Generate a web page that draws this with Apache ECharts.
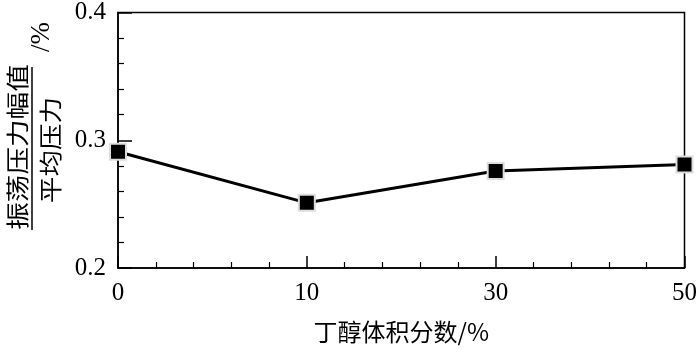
<!DOCTYPE html>
<html>
<head>
<meta charset="utf-8">
<script src="https://cdn.jsdelivr.net/npm/echarts@6/dist/echarts.min.js"></script>
<style>html,body{margin:0;padding:0;background:#fff;}#c{width:700px;height:349px;}</style>
</head>
<body>
<div id="c"></div>
<script>
var xLabels = ['0', '10', '30', '50'];
var yValues = [0.291, 0.251, 0.276, 0.281];
var yTicks = [0.2, 0.3, 0.4];
var xName = '丁醇体积分数/%';
var yNumerator = '振荡压力幅值';
var yDenominator = '平均压力';
var yUnit = '/%';

var chart = echarts.init(document.getElementById('c'));
var serif = '"Liberation Serif", "Times New Roman", serif';
var cjk = '"Noto Sans CJK SC", sans-serif';
chart.setOption({
  animation: false,
  backgroundColor: '#fff',
  grid: { left: 118, right: 11, top: 8, bottom: 76, show: true, borderColor: '#000', borderWidth: 1.5, containLabel: false },
  xAxis: {
    type: 'value', min: 0, max: xLabels.length - 1, interval: 1,
    name: xName, nameLocation: 'middle', nameGap: 52,
    nameTextStyle: { fontFamily: cjk, fontSize: 24, color: '#000' },
    axisLine: { lineStyle: { color: '#000', width: 1.5 } },
    axisTick: { inside: true, length: 12, lineStyle: { color: '#000', width: 1.5 } },
    minorTick: { show: true, splitNumber: 5, length: 6, lineStyle: { color: '#000', width: 1.2 } },
    splitLine: { show: false },
    axisLabel: { fontFamily: serif, fontSize: 25, color: '#000', margin: 13,
      formatter: function (v) { return xLabels[v] !== undefined ? xLabels[v] : ''; } }
  },
  yAxis: {
    type: 'value', min: yTicks[0], max: yTicks[yTicks.length - 1], interval: 0.1,
    axisLine: { show: true, lineStyle: { color: '#000', width: 1.5 } },
    axisTick: { inside: true, length: 14, lineStyle: { color: '#000', width: 1.5 } },
    minorTick: { show: true, splitNumber: 5, length: 6, lineStyle: { color: '#000', width: 1.2 } },
    splitLine: { show: false },
    axisLabel: { fontFamily: serif, fontSize: 25, color: '#000', margin: 12,
      formatter: function (v) { return v.toFixed(1); } }
  },
  series: [{
    type: 'line',
    data: yValues.map(function (v, i) { return [i, v]; }),
    symbol: 'rect', symbolSize: 16,
    lineStyle: { color: '#000', width: 3 },
    itemStyle: { color: '#000', borderColor: '#ddd', borderWidth: 2 }
  }],
  graphic: [
    { type: 'text', x: 17, y: 147, rotation: Math.PI / 2, scaleX: 1.2,
      style: { text: yNumerator, fontFamily: cjk, fontSize: 23, fill: '#000', align: 'center', verticalAlign: 'middle' } },
    { type: 'line', shape: { x1: 32, y1: 67, x2: 32, y2: 230 }, style: { stroke: '#000', lineWidth: 1.5 } },
    { type: 'text', x: 50, y: 150, rotation: Math.PI / 2, scaleX: 1.15,
      style: { text: yDenominator, fontFamily: cjk, fontSize: 23, fill: '#000', align: 'center', verticalAlign: 'middle' } },
    { type: 'text', x: 42, y: 37, rotation: Math.PI / 2,
      style: { text: yUnit, font: '27px "Liberation Serif"', fill: '#000', align: 'center', verticalAlign: 'middle' } }
  ]
});
</script>
</body>
</html>
